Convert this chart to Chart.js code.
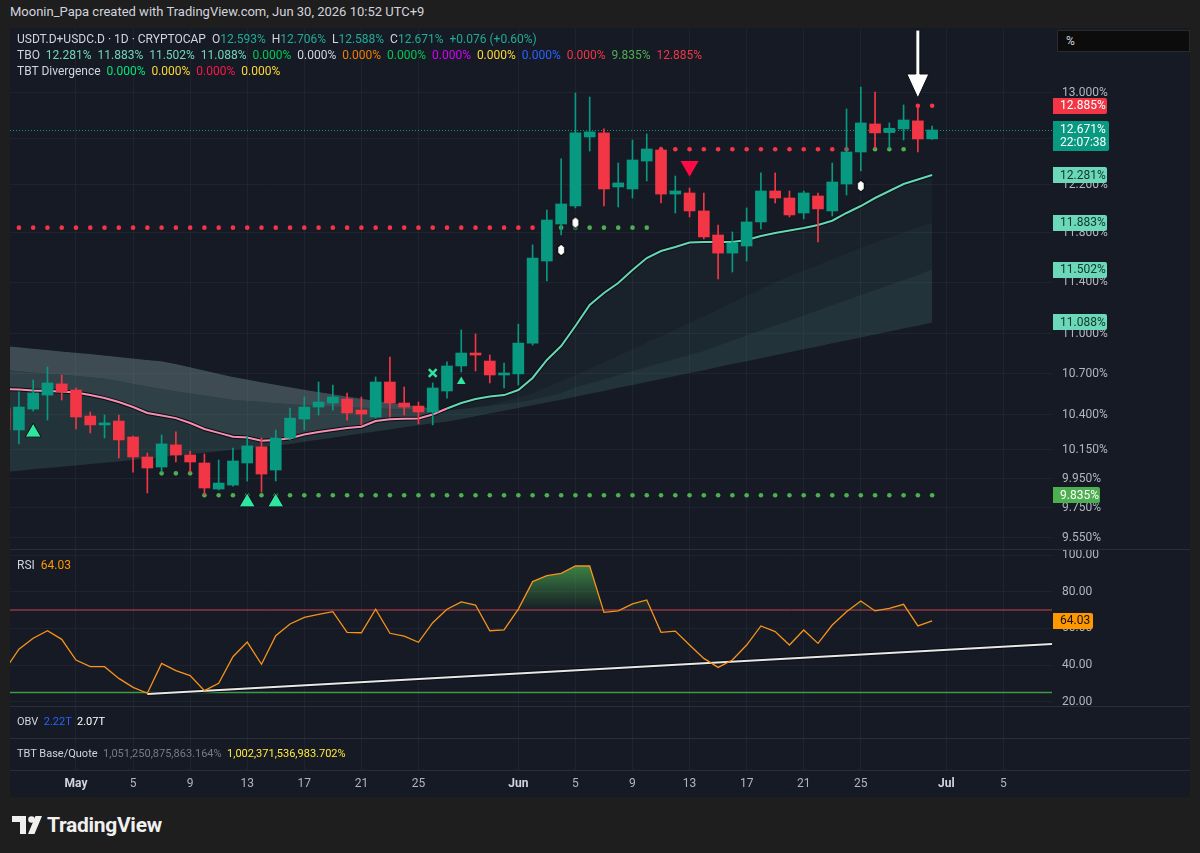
<!DOCTYPE html>
<html lang="en">
<head>
<meta charset="utf-8">
<title>USDT.D+USDC.D 1D</title>
<script src="https://cdn.jsdelivr.net/npm/chart.js@4.4.1/dist/chart.umd.min.js"></script>
<style>
  html, body { margin: 0; padding: 0; }
  body { width: 1200px; height: 853px; background: #1e1e1e; position: relative; overflow: hidden;
         font-family: Roboto, "Noto Sans", sans-serif; color: #d1d4dc; }
  #frame { position: absolute; left: 10px; top: 28px; width: 1180px; height: 769px; background: #161a25; }
  canvas { position: absolute; left: 10px; }
  .sep { position: absolute; left: 10px; width: 1180px; height: 1px; background: #2a2e39; }
  .txt { position: absolute; white-space: pre; font-size: 12px; line-height: 16px; }
  .w { color: #d1d4dc; } .g { color: #22ab94; } .m { color: #6fd6b8; } .gr { color: #00c853; }
  .o { color: #f57c00; } .p { color: #d500f9; } .y { color: #fdd835; } .b { color: #2962ff; }
  .r { color: #f23645; } .lg { color: #4caf50; } .dim { color: #787b86; } .or { color: #ff9800; }
  #unit { position: absolute; left: 1057px; top: 30px; width: 131px; height: 20px; background: #0c0c0c;
          border: 1px solid #2a2a2a; font-size: 12px; line-height: 20px; text-indent: 8px; color: #d1d4dc; }
  #logo { position: absolute; left: 12px; top: 813px; height: 24px; display: flex; align-items: center; }
  #logo span { font-size: 21px; font-weight: 700; color: #f0f0f0; margin-left: 5px; letter-spacing: -0.3px; }
</style>
</head>
<body>
<div id="frame"></div>
<div class="txt w" style="left:10px;top:4px;font-size:13px;">Moonin_Papa created with TradingView.com, Jun 30, 2026 10:52 UTC+9</div>

<canvas id="mainChart" width="1180" height="521" style="top:28px"></canvas>
<canvas id="rsiChart" width="1180" height="156" style="top:550px"></canvas>
<canvas id="obvChart" width="1180" height="31" style="top:707px"></canvas>
<canvas id="tbtChart" width="1180" height="58" style="top:739px"></canvas>

<div class="sep" style="top:549px"></div>
<div class="sep" style="top:706px"></div>
<div class="sep" style="top:738px"></div>
<div class="sep" style="top:770px"></div>

<div class="txt w" style="left:17px;top:31px;">USDT.D+USDC.D · 1D · CRYPTOCAP  O<span class="g">12.593%</span>  H<span class="g">12.706%</span>  L<span class="g">12.588%</span>  C<span class="g">12.671%</span>  <span class="g">+0.076 (+0.60%)</span></div>
<div class="txt w" style="left:17px;top:47px;">TBO  <span class="m">12.281%</span>  <span class="m">11.883%</span>  <span class="m">11.502%</span>  <span class="m">11.088%</span>  <span class="gr">0.000%</span>  <span class="w">0.000%</span>  <span class="o">0.000%</span>  <span class="gr">0.000%</span>  <span class="p">0.000%</span>  <span class="y">0.000%</span>  <span class="b">0.000%</span>  <span class="r">0.000%</span>  <span class="lg">9.835%</span>  <span class="r">12.885%</span></div>
<div class="txt w" style="left:17px;top:63px;">TBT Divergence  <span style="color:#00e676">0.000%</span>  <span class="y">0.000%</span>  <span style="color:#ff1744">0.000%</span>  <span class="y">0.000%</span></div>
<div id="unit">%</div>

<div class="txt w" style="left:17px;top:557px;">RSI  <span class="or">64.03</span></div>
<div class="txt w" style="left:17px;top:714px;font-size:11px;">OBV  <span class="b">2.22T</span>  <span style="color:#ffffff">2.07T</span></div>
<div class="txt w" style="left:17px;top:746px;font-size:11px;">TBT Base/Quote  <span class="dim">1,051,250,875,863.164%</span>  <span style="color:#ffeb3b">1,002,371,536,983.702%</span></div>

<div id="logo">
  <svg width="30" height="18" viewBox="0 0 30 18"><path d="M0 0H14V18H8V6H0Z" fill="#f0f0f0"/><circle cx="19.5" cy="3.5" r="3.3" fill="#f0f0f0"/><path d="M16 18L23.5 0H30L22.5 18Z" fill="#f0f0f0"/></svg>
  <span>TradingView</span>
</div>

<script>
// days counted from May 1 (0); Apr 26 = -5 ... Jun 30 = 60
const days = [-5, -4, -3, -2, -1,
  0, 1, 2, 3, 4, 5, 6, 7, 8, 9, 10, 11, 12, 13, 14, 15, 16, 17, 18, 19, 20,
  21, 22, 23, 24, 25, 26, 27, 28, 29, 30, 31, 32, 33, 34, 35, 36, 37, 38, 39, 40,
  41, 42, 43, 44, 45, 46, 47, 48, 49, 50, 51, 52, 53, 54, 55, 56, 57, 58, 59, 60];

const open = [10.449, 10.291, 10.441, 10.543, 10.625,
  10.580, 10.391, 10.327, 10.355, 10.241, 10.100, 10.030, 10.185, 10.114, 10.058,
  9.878, 9.905, 10.058, 10.171, 10.009, 10.234, 10.369, 10.456, 10.485, 10.514,
  10.434, 10.384, 10.639, 10.485, 10.463, 10.420, 10.573, 10.758, 10.855, 10.795, 10.691,
  10.699, 10.930, 11.570, 11.871, 12.020, 12.610, 12.645, 12.180, 12.163, 12.401,
  12.496, 12.120, 12.129, 11.979, 11.781, 11.634, 11.691, 11.888, 12.146, 12.087,
  11.962, 12.104, 11.979, 12.205, 12.479, 12.724, 12.648, 12.680, 12.751, 12.593];
const high = [10.507, 10.566, 10.654, 10.750, 10.691,
  10.595, 10.420, 10.398, 10.398, 10.248, 10.128, 10.255, 10.277, 10.142, 10.121,
  10.079, 10.163, 10.248, 10.234, 10.291, 10.449, 10.529, 10.639, 10.617, 10.558,
  10.529, 10.676, 10.825, 10.602, 10.492, 10.632, 10.788, 11.030, 10.999, 10.840, 10.780,
  11.075, 11.700, 11.987, 12.419, 13.000, 12.964, 12.680, 12.384, 12.583, 12.636,
  12.522, 12.273, 12.171, 12.129, 11.863, 11.806, 12.004, 12.299, 12.299, 12.146,
  12.146, 12.129, 12.384, 12.857, 13.054, 13.009, 12.733, 12.893, 12.885, 12.706];
const low = [10.277, 10.192, 10.427, 10.362, 10.507,
  10.298, 10.270, 10.234, 10.093, 9.995, 9.851, 9.995, 10.065, 9.995, 9.837,
  9.871, 9.898, 9.933, 9.857, 9.933, 10.220, 10.291, 10.398, 10.434, 10.362,
  10.327, 10.376, 10.384, 10.398, 10.334, 10.327, 10.521, 10.713, 10.721, 10.632, 10.595,
  10.617, 10.915, 11.411, 11.781, 12.004, 12.487, 12.020, 12.012, 12.087, 12.231,
  12.045, 11.962, 11.929, 11.748, 11.427, 11.482, 11.570, 11.830, 12.045, 11.929,
  11.913, 11.724, 11.937, 12.112, 12.316, 12.513, 12.513, 12.583, 12.479, 12.588];
const close = [10.291, 10.456, 10.558, 10.632, 10.566,
  10.384, 10.327, 10.334, 10.220, 10.100, 10.023, 10.192, 10.114, 10.065, 9.885,
  9.919, 10.072, 10.178, 9.981, 10.234, 10.376, 10.456, 10.492, 10.529, 10.413,
  10.405, 10.639, 10.485, 10.456, 10.420, 10.595, 10.758, 10.855, 10.840, 10.691, 10.706,
  10.930, 11.594, 11.904, 12.037, 12.645, 12.654, 12.163, 12.214, 12.410, 12.505,
  12.120, 12.146, 11.979, 11.765, 11.634, 11.716, 11.888, 12.146, 12.087, 11.946,
  12.129, 11.996, 12.222, 12.479, 12.733, 12.645, 12.686, 12.759, 12.592, 12.671];

// TBO lines (fast -> slowest)
const tboFast = [10.588, 10.584, 10.576, 10.573, 10.569,
  10.562, 10.543, 10.521, 10.492, 10.456, 10.413, 10.395, 10.376, 10.341, 10.298,
  10.270, 10.243, 10.238, 10.215, 10.220, 10.232, 10.259, 10.277, 10.291, 10.305,
  10.314, 10.355, 10.367, 10.371, 10.374, 10.402, 10.445, 10.485, 10.514, 10.532, 10.543,
  10.580, 10.669, 10.803, 10.908, 11.060, 11.223, 11.316, 11.395, 11.498, 11.594,
  11.651, 11.683, 11.720, 11.724, 11.724, 11.724, 11.740, 11.773, 11.797, 11.818,
  11.838, 11.863, 11.898, 11.962, 12.020, 12.087, 12.146, 12.205, 12.243, 12.281];
const tboMid = [10.728, 10.719, 10.710, 10.701, 10.692,
  10.683, 10.675, 10.663, 10.644, 10.625, 10.606, 10.588, 10.570, 10.555, 10.538,
  10.523, 10.507, 10.499, 10.492, 10.484, 10.476, 10.469, 10.465, 10.460, 10.456,
  10.451, 10.447, 10.443, 10.440, 10.437, 10.433, 10.432, 10.444, 10.457, 10.470, 10.499,
  10.528, 10.557, 10.602, 10.643, 10.691, 10.738, 10.786, 10.834, 10.884, 10.934,
  10.984, 11.034, 11.085, 11.136, 11.189, 11.242, 11.294, 11.348, 11.401, 11.451,
  11.494, 11.539, 11.585, 11.631, 11.677, 11.718, 11.760, 11.801, 11.843, 11.883];
const tboSlow = [10.908, 10.898, 10.888, 10.878, 10.867,
  10.858, 10.847, 10.837, 10.826, 10.814, 10.803, 10.793, 10.773, 10.748, 10.724,
  10.700, 10.676, 10.658, 10.638, 10.619, 10.601, 10.582, 10.566, 10.549, 10.533,
  10.516, 10.501, 10.487, 10.473, 10.460, 10.446, 10.429, 10.440, 10.450, 10.462, 10.476,
  10.491, 10.507, 10.530, 10.556, 10.598, 10.628, 10.658, 10.689, 10.719, 10.749,
  10.780, 10.811, 10.840, 10.871, 10.909, 10.947, 10.987, 11.025, 11.063, 11.101,
  11.141, 11.180, 11.220, 11.259, 11.299, 11.338, 11.378, 11.417, 11.458, 11.502];
const tboSlowest = [9.995, 10.004, 10.014, 10.023, 10.032,
  10.041, 10.051, 10.060, 10.069, 10.079, 10.090, 10.100, 10.110, 10.120, 10.130,
  10.140, 10.150, 10.160, 10.171, 10.181, 10.192, 10.207, 10.222, 10.236, 10.251,
  10.266, 10.280, 10.294, 10.310, 10.324, 10.339, 10.350, 10.370, 10.389, 10.409, 10.429,
  10.449, 10.469, 10.489, 10.508, 10.530, 10.552, 10.573, 10.596, 10.617, 10.639,
  10.661, 10.683, 10.705, 10.727, 10.750, 10.772, 10.794, 10.816, 10.838, 10.861,
  10.883, 10.905, 10.928, 10.950, 10.973, 10.996, 11.019, 11.041, 11.063, 11.088];

// level dots (null = no dot that day)
const levelRed = [11.841, 11.841, 11.841, 11.841, 11.841,
  11.841, 11.841, 11.841, 11.841, 11.841, 11.841, 11.841, 11.841, 11.841, 11.841,
  11.841, 11.841, 11.841, 11.841, 11.841, 11.841, 11.841, 11.841, 11.841, 11.841,
  11.841, 11.841, 11.841, 11.841, 11.841, 11.841, 11.841, 11.841, 11.841, 11.841, 11.841,
  11.841, 11.841, null, null, null, null, null, null, null, null,
  12.502, 12.502, 12.502, 12.502, 12.502, 12.502, 12.502, 12.502, 12.502, 12.502,
  12.502, 12.502, 12.502, 12.502, null, null, null, null, 12.885, 12.885];
const levelGreenUpper = [null, null, null, null, null,
  null, null, null, null, null, null, null, null, null, null,
  null, null, null, null, null, null, null, null, null, null,
  null, null, null, null, null, null, null, null, null, null, null,
  null, null, 11.841, 11.841, 11.841, 11.841, 11.841, 11.841, 11.841, 11.841,
  null, null, null, null, null, null, null, null, null, null,
  null, null, null, null, 12.502, 12.502, 12.502, 12.502, null, null];
const levelGreenLower = [null, null, null, null, null,
  null, null, null, null, null, null, 9.986, 9.986, 9.986, 9.835,
  9.835, 9.835, 9.835, 9.835, 9.835, 9.835, 9.835, 9.835, 9.835, 9.835,
  9.835, 9.835, 9.835, 9.835, 9.835, 9.835, 9.835, 9.835, 9.835, 9.835, 9.835,
  9.835, 9.835, 9.835, 9.835, 9.835, 9.835, 9.835, 9.835, 9.835, 9.835,
  9.835, 9.835, 9.835, 9.835, 9.835, 9.835, 9.835, 9.835, 9.835, 9.835,
  9.835, 9.835, 9.835, 9.835, 9.835, 9.835, 9.835, 9.835, 9.835, 9.835];

// signal markers
const bigUpMarks = [{x: -3, y: 10.273}, {x: 12, y: 9.788}, {x: 14, y: 9.788}];
const smallUpMarks = [{x: 27, y: 10.643}];
const crossMarks = [{x: 25, y: 10.706}];
const downMarks = [{x: 43, y: 12.356}];
const whiteMarks = [{x: 34, y: 11.659}, {x: 35, y: 11.882}, {x: 55, y: 12.188}];
const arrowMark = {day: 59, from: 13.58, to: 12.955};

// RSI
const rsi = [37.2, 48.6, 54.6, 58.7, 54.0,
  42.7, 39.1, 39.1, 32.7, 27.8, 24.6, 40.9, 36.9, 34.2, 26.0,
  30.0, 44.5, 52.5, 40.4, 56.0, 62.4, 66.0, 67.6, 69.1, 57.8,
  57.6, 70.4, 57.3, 55.8, 52.4, 63.1, 70.4, 74.4, 72.7, 58.7, 59.1,
  70.5, 85.5, 88.7, 90.0, 94.0, 94.0, 68.7, 69.5, 73.3, 75.5,
  57.8, 58.5, 50.9, 43.6, 38.7, 42.7, 50.9, 61.3, 58.2, 50.9,
  59.1, 51.8, 61.8, 69.1, 74.9, 69.5, 70.9, 73.1, 61.3, 64.03];
const rsiUpper = 70;
const rsiLower = 25;
const rsiTrend = [{x: 5, y: 24.2}, {x: 68.4, y: 51.5}];

// axes
const dateTicks = [0, 4, 8, 12, 16, 20, 24, 31, 35, 39, 43, 47, 51, 55, 61, 65];
const dateLabels = ['May', '5', '9', '13', '17', '21', '25', 'Jun', '5', '9', '13', '17', '21', '25', 'Jul', '5'];
const priceTicks = [13.0, 12.6, 12.2, 11.8, 11.4, 11.0, 10.7, 10.4, 10.15, 9.95, 9.75, 9.55];
const rsiTicks = [100, 80, 60, 40, 20];

const X_MIN = -4.625, X_MAX = 68.4;
const PRICE_MIN = 9.4756, PRICE_MAX = 13.5994;
const RSI_MIN = 17.64, RSI_MAX = 102.73;

const UP = '#089981', DOWN = '#f23645';
const GRID = '#1f2330';
const AXIS_TEXT = '#b2b5be';
const AXIS_W = 138;
const TEAL_FILL = a => `rgba(96,178,160,${a})`;
const GREY_FILL = a => `rgba(150,154,166,${a})`;

Chart.defaults.font.family = "Roboto, 'Noto Sans', sans-serif";
Chart.defaults.font.size = 12;

const pts = arr => days.map((d, i) => ({x: d, y: arr[i]}));
const candleColors = close.map((c, i) => c >= open[i] ? UP : DOWN);

function xScaleHidden() {
    return {
        type: 'linear', min: X_MIN, max: X_MAX, offset: false,
        afterBuildTicks: s => { s.ticks = dateTicks.map(v => ({value: v})); },
        afterFit: s => { s.height = 0; },
        ticks: {display: false},
        grid: {color: GRID, drawTicks: false, offset: false},
        border: {display: false}
    };
}

function drawBadge(ctx, x, yc, w, h, bg, fg, text) {
    ctx.fillStyle = bg;
    ctx.beginPath();
    ctx.roundRect(x, Math.round(yc - h / 2), w, h, [0, 2, 2, 0]);
    ctx.fill();
    ctx.fillStyle = fg;
    ctx.textBaseline = 'middle';
    ctx.textAlign = 'left';
    ctx.font = "12px Roboto, 'Noto Sans', sans-serif";
    ctx.fillText(text, x + 7, yc + 0.5);
}

// white marker shape
const whiteShape = document.createElement('canvas');
whiteShape.width = 10; whiteShape.height = 14;
(function () {
    const g = whiteShape.getContext('2d');
    g.fillStyle = '#ffffff'; g.strokeStyle = '#0b0d12'; g.lineWidth = 1.2;
    g.beginPath();
    g.moveTo(5, 1); g.lineTo(8.5, 4); g.lineTo(8.5, 10); g.lineTo(5, 13); g.lineTo(1.5, 10); g.lineTo(1.5, 4);
    g.closePath(); g.fill(); g.stroke();
})();

const mainOverlay = {
    id: 'mainOverlay',
    beforeDatasetsDraw(chart) {
        const {ctx, chartArea: a, scales: {y}} = chart;
        const py = Math.round(y.getPixelForValue(close[close.length - 1])) + 0.5;
        ctx.save();
        ctx.strokeStyle = UP; ctx.lineWidth = 1; ctx.setLineDash([1, 2]);
        ctx.beginPath(); ctx.moveTo(a.left, py); ctx.lineTo(a.right, py); ctx.stroke();
        ctx.restore();
    },
    afterDraw(chart) {
        const {ctx, chartArea: a, scales: {x, y}} = chart;
        ctx.save();
        // arrow drawing
        const ax = x.getPixelForValue(arrowMark.day);
        const y0 = y.getPixelForValue(arrowMark.from);
        const y1 = y.getPixelForValue(arrowMark.to);
        ctx.fillStyle = '#ffffff'; ctx.strokeStyle = '#0b0d12'; ctx.lineWidth = 1;
        ctx.beginPath();
        ctx.moveTo(ax - 2, y0); ctx.lineTo(ax + 2, y0); ctx.lineTo(ax + 2, y1 - 24);
        ctx.lineTo(ax + 11, y1 - 24); ctx.lineTo(ax, y1); ctx.lineTo(ax - 11, y1 - 24);
        ctx.lineTo(ax - 2, y1 - 24); ctx.closePath();
        ctx.fill(); ctx.stroke();

        // price-scale badges
        const bx = a.right + 1;
        const last = close.length - 1;
        drawBadge(ctx, bx, y.getPixelForValue(levelRed[last]), 54, 16, '#f23645', '#ffffff', levelRed[last].toFixed(3) + '%');
        [tboFast, tboMid, tboSlow, tboSlowest].forEach(s => {
            drawBadge(ctx, bx, y.getPixelForValue(s[last]), 54, 16, '#6bd9b9', '#12332b', s[last].toFixed(3) + '%');
        });
        drawBadge(ctx, bx, y.getPixelForValue(levelGreenLower[last]), 47, 16, '#4caf50', '#ffffff', levelGreenLower[last].toFixed(3) + '%');
        // last price + countdown
        const py = y.getPixelForValue(close[last]);
        ctx.fillStyle = UP;
        ctx.beginPath(); ctx.roundRect(bx, Math.round(py - 9), 56, 30, [0, 2, 2, 0]); ctx.fill();
        ctx.fillStyle = '#ffffff'; ctx.textBaseline = 'middle'; ctx.textAlign = 'left';
        ctx.font = "12px Roboto, 'Noto Sans', sans-serif";
        ctx.fillText(close[last].toFixed(3) + '%', bx + 7, py + 0.5);
        ctx.fillText('22:07:38', bx + 7, py + 13.5);
        ctx.restore();
    }
};

const baseOpts = {
    responsive: false, animation: false, events: [],
    layout: {padding: 0, autoPadding: false},
    plugins: {legend: {display: false}, tooltip: {enabled: false}}
};

// ---------- main price pane ----------
new Chart(document.getElementById('mainChart'), {
    type: 'bar',
    data: {
        datasets: [
            {type: 'line', data: pts(tboSlowest), borderWidth: 0, pointRadius: 0, fill: false, order: 100},
            {type: 'line', data: pts(tboSlow), borderWidth: 0, pointRadius: 0, order: 99,
                fill: {target: 0, above: TEAL_FILL(0.17), below: GREY_FILL(0.2)}},
            {type: 'line', data: pts(tboMid), borderWidth: 0, pointRadius: 0, order: 98,
                fill: {target: 1, above: TEAL_FILL(0.10), below: GREY_FILL(0.24)}},
            {type: 'line', data: pts(tboFast), borderWidth: 4, borderColor: '#0b0d12', pointRadius: 0, order: 97,
                fill: {target: 2, above: TEAL_FILL(0.05), below: GREY_FILL(0.13)}},
            {type: 'line', data: pts(tboFast), borderWidth: 2, pointRadius: 0, fill: false, order: 96,
                borderColor: '#64d8b4',
                segment: {borderColor: c => c.p0.parsed.x >= 26 ? '#64d8b4' : '#f48fb1'}},
            {type: 'line', data: pts(levelRed), showLine: false, pointRadius: 2.3, pointBorderWidth: 0,
                pointBackgroundColor: '#f23645', order: 90},
            {type: 'line', data: pts(levelGreenUpper), showLine: false, pointRadius: 2.3, pointBorderWidth: 0,
                pointBackgroundColor: '#4caf50', order: 90},
            {type: 'line', data: pts(levelGreenLower), showLine: false, pointRadius: 2.3, pointBorderWidth: 0,
                pointBackgroundColor: '#4caf50', order: 90},
            {data: days.map((d, i) => ({x: d, y: [low[i], high[i]]})), backgroundColor: candleColors,
                barThickness: 1, grouped: false, order: 80},
            {data: days.map((d, i) => ({x: d, y: [open[i], close[i]]})), backgroundColor: candleColors,
                barThickness: 11, minBarLength: 2, grouped: false, order: 79},
            {type: 'line', data: bigUpMarks, showLine: false, pointStyle: 'triangle', pointRadius: 9.3,
                pointBackgroundColor: '#2ee6a0', pointBorderColor: '#0b0d12', pointBorderWidth: 1, order: 10},
            {type: 'line', data: smallUpMarks, showLine: false, pointStyle: 'triangle', pointRadius: 5,
                pointBackgroundColor: '#2ee6a0', pointBorderWidth: 0, order: 10},
            {type: 'line', data: crossMarks, showLine: false, pointStyle: 'crossRot', pointRadius: 5.5,
                pointBorderColor: '#2ee6a0', pointBorderWidth: 2.5, order: 10},
            {type: 'line', data: downMarks, showLine: false, pointStyle: 'triangle', pointRotation: 180, pointRadius: 10.4,
                pointBackgroundColor: '#ff0a45', pointBorderWidth: 0, order: 10},
            {type: 'line', data: whiteMarks, showLine: false, pointStyle: whiteShape, order: 10}
        ]
    },
    options: {
        ...baseOpts,
        scales: {
            x: xScaleHidden(),
            y: {
                type: 'logarithmic', position: 'right', min: PRICE_MIN, max: PRICE_MAX,
                afterBuildTicks: s => { s.ticks = priceTicks.map(v => ({value: v})); },
                afterFit: s => { s.width = AXIS_W; s.paddingTop = 0; s.paddingBottom = 0; },
                ticks: {autoSkip: false, padding: 10, color: AXIS_TEXT, callback: v => v.toFixed(3) + '%'},
                grid: {color: GRID, drawTicks: false},
                border: {display: false}
            }
        }
    },
    plugins: [mainOverlay]
});

// ---------- RSI pane ----------
const rsiCanvas = document.getElementById('rsiChart');
const rctx = rsiCanvas.getContext('2d');
const rsiPx = v => (RSI_MAX - v) / (RSI_MAX - RSI_MIN) * rsiCanvas.height;
const obGrad = rctx.createLinearGradient(0, rsiPx(100), 0, rsiPx(rsiUpper));
obGrad.addColorStop(0, 'rgba(76,175,80,0.85)');
obGrad.addColorStop(1, 'rgba(76,175,80,0.03)');
const osGrad = rctx.createLinearGradient(0, rsiPx(rsiLower), 0, rsiPx(RSI_MIN));
osGrad.addColorStop(0, 'rgba(242,54,69,0.05)');
osGrad.addColorStop(1, 'rgba(242,54,69,0.7)');

const rsiOverlay = {
    id: 'rsiOverlay',
    afterDraw(chart) {
        const {ctx, chartArea: a, scales: {y}} = chart;
        ctx.save();
        drawBadge(ctx, a.right + 1, y.getPixelForValue(rsi[rsi.length - 1]), 40, 16, '#ff9800', '#131313', rsi[rsi.length - 1].toFixed(2));
        ctx.restore();
    }
};

new Chart(rsiCanvas, {
    type: 'line',
    data: {
        datasets: [
            {data: pts(rsi), borderColor: '#f7931a', borderWidth: 1.3, pointRadius: 0, order: 1,
                fill: {value: rsiUpper, above: obGrad, below: 'rgba(0,0,0,0)'}},
            {data: pts(rsi), borderWidth: 0, pointRadius: 0, order: 9,
                fill: {value: rsiLower, above: 'rgba(0,0,0,0)', below: osGrad}},
            {data: [{x: X_MIN, y: rsiUpper}, {x: X_MAX, y: rsiUpper}], borderColor: '#c9434d', borderWidth: 1, pointRadius: 0, order: 8},
            {data: [{x: X_MIN, y: rsiLower}, {x: X_MAX, y: rsiLower}], borderColor: '#3f9a45', borderWidth: 1.3, pointRadius: 0, order: 8},
            {data: rsiTrend, borderColor: '#0b0d12', borderWidth: 4, pointRadius: 0, order: 3},
            {data: rsiTrend, borderColor: '#e8e8e8', borderWidth: 2, pointRadius: 0, order: 2}
        ]
    },
    options: {
        ...baseOpts,
        scales: {
            x: xScaleHidden(),
            y: {
                type: 'linear', position: 'right', min: RSI_MIN, max: RSI_MAX,
                afterBuildTicks: s => { s.ticks = rsiTicks.map(v => ({value: v})); },
                afterFit: s => { s.width = AXIS_W; s.paddingTop = 0; s.paddingBottom = 0; },
                ticks: {autoSkip: false, padding: 10, color: AXIS_TEXT, callback: v => v.toFixed(2)},
                grid: {color: GRID, drawTicks: false},
                border: {display: false}
            }
        }
    },
    plugins: [rsiOverlay]
});

// ---------- OBV pane (legend only) ----------
new Chart(document.getElementById('obvChart'), {
    type: 'line',
    data: {datasets: []},
    options: {
        ...baseOpts,
        layout: {padding: {right: AXIS_W}, autoPadding: false},
        scales: {x: xScaleHidden(), y: {display: false, min: 0, max: 1}}
    }
});

// ---------- TBT pane + time axis ----------
new Chart(document.getElementById('tbtChart'), {
    type: 'line',
    data: {datasets: []},
    options: {
        ...baseOpts,
        layout: {padding: {right: AXIS_W}, autoPadding: false},
        scales: {
            x: {
                type: 'linear', min: X_MIN, max: X_MAX, offset: false,
                afterBuildTicks: s => { s.ticks = dateTicks.map(v => ({value: v})); },
                afterFit: s => { s.height = 27; },
                ticks: {
                    autoSkip: false, maxRotation: 0, padding: 7,
                    callback: (v, i) => dateLabels[i],
                    color: c => /^[A-Z]/.test(dateLabels[c.index]) ? '#d1d4dc' : AXIS_TEXT,
                    font: c => ({weight: /^[A-Z]/.test(dateLabels[c.index]) ? 'bold' : 'normal'})
                },
                grid: {color: GRID, drawTicks: false, offset: false},
                border: {display: false}
            },
            y: {display: false, min: 0, max: 1}
        }
    }
});
</script>
</body>
</html>
